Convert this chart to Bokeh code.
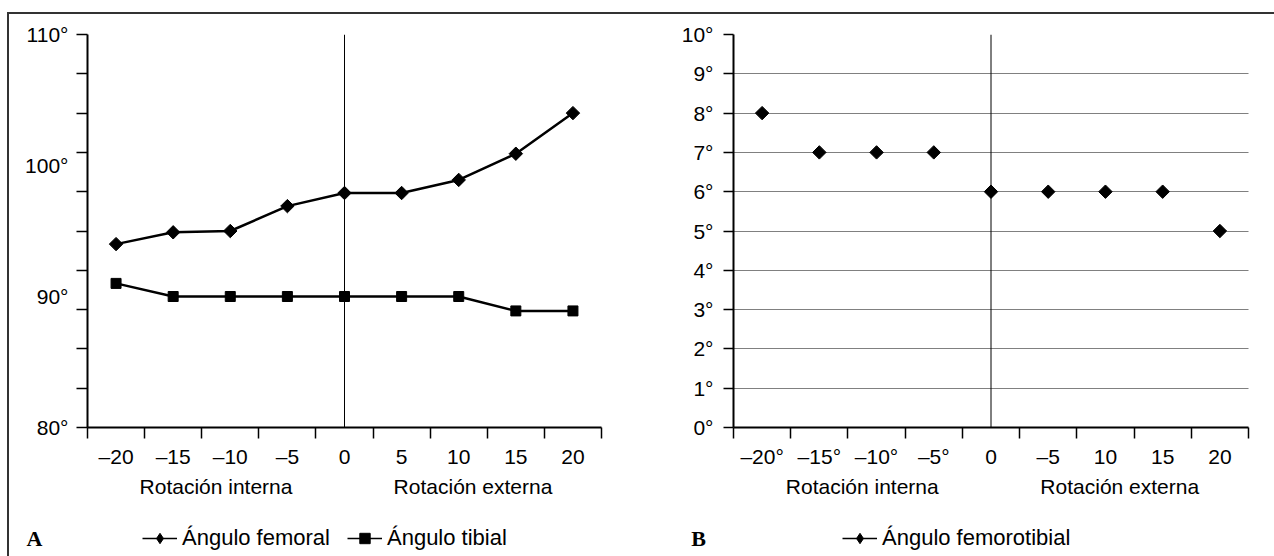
import math
from bokeh.plotting import figure
from bokeh.models import (Range1d, FixedTicker, LinearAxis, Span, Label,
                          Legend, LegendItem, ColumnDataSource)
from bokeh.layouts import row, column
from bokeh.embed import file_html
from bokeh.resources import INLINE

# ---------------- data ----------------
rotation = [-20, -15, -10, -5, 0, 5, 10, 15, 20]
x_labels_A = ["–20", "–15", "–10", "–5", "0", "5", "10", "15", "20"]
x_labels_B = ["–20°", "–15°", "–10°", "–5°", "0", "–5", "10", "15", "20"]

femoral = [94.0, 94.9, 95.0, 96.9, 97.9, 97.9, 98.9, 100.9, 104.0]
tibial = [91.0, 90.0, 90.0, 90.0, 90.0, 90.0, 90.0, 88.9, 88.9]
femorotibial = [8.0, 7.0, 7.0, 7.0, 6.0, 6.0, 6.0, 6.0, 5.0]

y_ticks_A = [80, 90, 100, 110]
y_labels_A = ["80°", "90°", "100°", "110°"]
y_minor_A = [80, 83, 86, 89, 92, 95, 98, 101, 104, 107, 110]
y_ticks_B = [0, 1, 2, 3, 4, 5, 6, 7, 8, 9, 10]
y_labels_B = ["0°", "1°", "2°", "3°", "4°", "5°", "6°", "7°", "8°", "9°", "10°"]

group_labels = ["Rotación interna", "Rotación externa"]
legend_A = ["Ángulo femoral", "Ángulo tibial"]
legend_B = ["Ángulo femorotibial"]
panel_letters = ["A", "B"]

FONT = "Liberation Sans"
FS = "21px"
INK = "#000000"
DIAMOND = 9.5
SQUARE = 10
LW = 2.5

step = rotation[1] - rotation[0]
bounds = [r - step / 2 for r in rotation] + [rotation[-1] + step / 2]
mid = rotation[len(rotation) // 2]
group_centers = [(bounds[0] + mid) / 2, (mid + bounds[-1]) / 2]

MAIN_H = 506


def base_panel(width, left, right, y_start, y_end, x_labels):
    p = figure(width=width, height=MAIN_H, output_backend="svg", toolbar_location=None,
               x_range=Range1d(bounds[0], bounds[-1]), y_range=Range1d(y_start, y_end),
               min_border_left=left, min_border_right=right,
               min_border_top=20, min_border_bottom=MAIN_H - 20 - 393)
    p.outline_line_color = None
    p.background_fill_alpha = 0
    p.border_fill_alpha = 0
    p.xgrid.visible = False
    p.ygrid.visible = False

    xa = p.xaxis[0]
    xa.ticker = FixedTicker(ticks=rotation, minor_ticks=bounds)
    xa.major_label_overrides = {r: l for r, l in zip(rotation, x_labels)}
    xa.major_tick_out = 0
    xa.major_tick_in = 0
    xa.minor_tick_out = 11
    xa.minor_tick_in = 0
    xa.minor_tick_line_width = 1.5
    xa.minor_tick_line_color = INK
    xa.axis_line_width = 2
    xa.axis_line_color = INK
    xa.major_label_text_font = FONT
    xa.major_label_text_font_size = FS
    xa.major_label_text_color = INK
    xa.major_label_standoff = 6

    ga = LinearAxis(ticker=FixedTicker(ticks=group_centers),
                    major_label_overrides={c: g for c, g in zip(group_centers, group_labels)},
                    axis_line_color=None, major_tick_line_color=None,
                    minor_tick_line_color=None,
                    major_label_text_font=FONT, major_label_text_font_size=FS,
                    major_label_text_color=INK, major_label_standoff=-2)
    p.add_layout(ga, "below")

    ya = p.yaxis[0]
    ya.axis_line_width = 2
    ya.axis_line_color = INK
    ya.major_label_text_font = FONT
    ya.major_label_text_font_size = FS
    ya.major_label_text_color = INK

    p.add_layout(Span(location=mid, dimension="height", line_color=INK, line_width=1))
    return p


# ---------------- panel A ----------------
pa = base_panel(628, 78, 36, y_minor_A[0], y_minor_A[-1], x_labels_A)
ya = pa.yaxis[0]
ya.ticker = FixedTicker(ticks=y_ticks_A, minor_ticks=y_minor_A)
ya.major_label_overrides = {t: l for t, l in zip(y_ticks_A, y_labels_A)}
ya.major_tick_out = 0
ya.major_tick_in = 0
ya.minor_tick_out = 11
ya.minor_tick_in = 0
ya.minor_tick_line_width = 1.5
ya.minor_tick_line_color = INK
ya.major_label_standoff = 8

srcA = ColumnDataSource(dict(x=rotation, fem=femoral, tib=tibial))
pa.line("x", "fem", source=srcA, line_color=INK, line_width=LW)
pa.scatter("x", "fem", source=srcA, marker="square", angle=math.pi / 4,
           size=DIAMOND, fill_color=INK, line_color=INK)
pa.line("x", "tib", source=srcA, line_color=INK, line_width=LW)
pa.scatter("x", "tib", source=srcA, marker="square", size=SQUARE,
           fill_color=INK, line_color=INK)

# ---------------- panel B ----------------
pb = base_panel(637, 96, 26, y_ticks_B[0], y_ticks_B[-1], x_labels_B)
yb = pb.yaxis[0]
yb.ticker = FixedTicker(ticks=y_ticks_B)
yb.major_label_overrides = {t: l for t, l in zip(y_ticks_B, y_labels_B)}
yb.major_tick_out = 10
yb.major_tick_in = 0
yb.major_tick_line_width = 1.5
yb.major_tick_line_color = INK
yb.minor_tick_line_color = None
yb.major_label_standoff = 10
pb.ygrid.visible = True
pb.ygrid.ticker = FixedTicker(ticks=y_ticks_B[1:])
pb.ygrid.grid_line_color = INK
pb.ygrid.grid_line_width = 1
pb.ygrid.grid_line_dash = "1 1"

srcB = ColumnDataSource(dict(x=rotation, y=femorotibial))
pb.scatter("x", "y", source=srcB, marker="square", angle=math.pi / 4,
           size=DIAMOND, fill_color=INK, line_color=INK)

# ---------------- legend strip ----------------
pl = figure(width=1265, height=556 - 14 - MAIN_H, output_backend="svg",
            toolbar_location=None, x_axis_type=None, y_axis_type=None,
            x_range=Range1d(0, 1), y_range=Range1d(0, 1),
            min_border_left=0, min_border_right=0, min_border_top=0, min_border_bottom=0)
pl.outline_line_color = None
pl.background_fill_alpha = 0
pl.border_fill_alpha = 0
pl.xgrid.visible = False
pl.ygrid.visible = False

# legend keys: one sample each, placed outside the strip's visible range
hidden = dict(x=[-5.0], y=[-5.0])
k_line = pl.line(x=[-5.0, -6.0], y=[-5.0, -6.0], line_color=INK, line_width=1.5)
k_dia = pl.scatter(x=hidden["x"], y=hidden["y"], marker="diamond",
                   fill_color=INK, line_color=INK)
k_sq = pl.scatter(x=hidden["x"], y=hidden["y"], marker="square",
                  fill_color=INK, line_color=INK)


def make_legend(items, loc):
    return Legend(items=items, location=loc, orientation="horizontal",
                  glyph_width=35, glyph_height=26, label_height=26, label_standoff=5,
                  spacing=17, padding=0, margin=0, border_line_color=None,
                  background_fill_alpha=0, label_text_font=FONT,
                  label_text_font_size="22px", label_text_color=INK)


pl.add_layout(make_legend([LegendItem(label=legend_A[0], renderers=[k_line, k_dia]),
                           LegendItem(label=legend_A[1], renderers=[k_line, k_sq])],
                          (133, 5)))
pl.add_layout(make_legend([LegendItem(label=legend_B[0], renderers=[k_line, k_dia])],
                          (833, 5)))
for letter, lx in zip(panel_letters, [25, 689]):
    pl.add_layout(Label(x=lx, y=18, x_units="screen", y_units="screen",
                        text=letter, text_font="Liberation Serif",
                        text_font_style="bold", text_font_size="22px",
                        text_align="center", text_baseline="middle", text_color=INK))

layout = column(row(pa, pb), pl,
                styles={"margin-left": "7px", "margin-top": "12px",
                        "border-left": "2px solid #333",
                        "border-top": "2px solid #333"})

open("out.html", "w").write(file_html(layout, INLINE))
